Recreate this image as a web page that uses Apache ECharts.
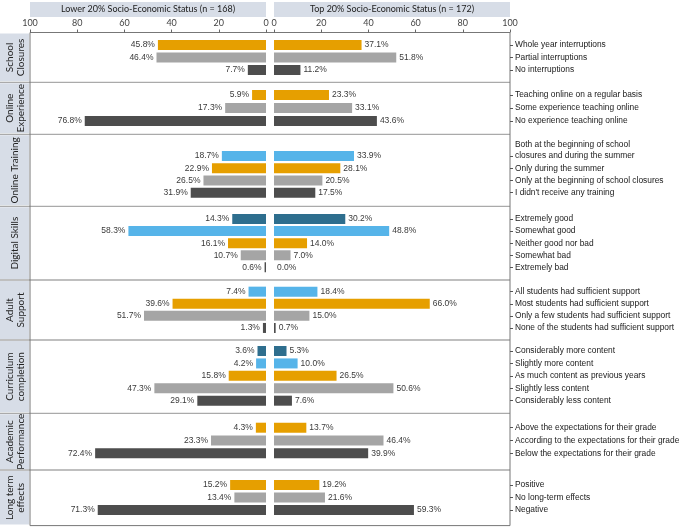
<!DOCTYPE html>
<html>
<head>
<meta charset="utf-8">
<script src="https://cdn.jsdelivr.net/npm/echarts@6/dist/echarts.min.js"></script>
<style>html,body{margin:0;padding:0;background:#fff}#c{width:683px;height:528px}</style>
</head>
<body>
<div id="c"></div>
<script>
// ---------- DATA ----------
const panelTitles = ['Lower 20% Socio-Economic Status (n = 168)', 'Top 20% Socio-Economic Status (n = 172)'];
const xTickValues = [0, 20, 40, 60, 80, 100];
const groupNames = ['School\nClosures', 'Online\nExperience', 'Online Training', 'Digital Skills', 'Adult\nSupport', 'Curriculum\ncompletion', 'Academic\nPerformance', 'Long term\neffects'];

const catSchool = ['Whole year interruptions', 'Partial interruptions', 'No interruptions'];
const catExperience = ['Teaching online on a regular basis', 'Some experience teaching online', 'No experience teaching online'];
const catTraining = ['Both at the beginning of school\nclosures and during the summer', 'Only during the summer', 'Only at the beginning of school closures', "I didn't receive any training"];
const catDigital = ['Extremely good', 'Somewhat good', 'Neither good nor bad', 'Somewhat bad', 'Extremely bad'];
const catAdult = ['All students had sufficient support', 'Most students had sufficient support', 'Only a few students had sufficient support', 'None of the students had sufficient support'];
const catCurriculum = ['Considerably more content', 'Slightly more content', 'As much content as previous years', 'Slightly less content', 'Considerably less content'];
const catAcademic = ['Above the expectations for their grade', 'According to the expectations for their grade', 'Below the expectations for their grade'];
const catLongTerm = ['Positive', 'No long-term effects', 'Negative'];

const lowSchool = [45.8, 46.4, 7.7];
const lowExperience = [5.9, 17.3, 76.8];
const lowTraining = [18.7, 22.9, 26.5, 31.9];
const lowDigital = [14.3, 58.3, 16.1, 10.7, 0.6];
const lowAdult = [7.4, 39.6, 51.7, 1.3];
const lowCurriculum = [3.6, 4.2, 15.8, 47.3, 29.1];
const lowAcademic = [4.3, 23.3, 72.4];
const lowLongTerm = [15.2, 13.4, 71.3];

const topSchool = [37.1, 51.8, 11.2];
const topExperience = [23.3, 33.1, 43.6];
const topTraining = [33.9, 28.1, 20.5, 17.5];
const topDigital = [30.2, 48.8, 14.0, 7.0, 0.0];
const topAdult = [18.4, 66.0, 15.0, 0.7];
const topCurriculum = [5.3, 10.0, 26.5, 50.6, 7.6];
const topAcademic = [13.7, 46.4, 39.9];
const topLongTerm = [19.2, 21.6, 59.3];

// ---------- STYLE / LAYOUT ----------
const palette = {teal: '#2e6e8e', sky: '#56b4e9', orange: '#e69f00', gray: '#a5a5a5', dark: '#4d4d4d'};
const colorKeys = [
  ['orange', 'gray', 'dark'],
  ['orange', 'gray', 'dark'],
  ['sky', 'orange', 'gray', 'dark'],
  ['teal', 'sky', 'orange', 'gray', 'dark'],
  ['sky', 'orange', 'gray', 'dark'],
  ['teal', 'sky', 'orange', 'gray', 'dark'],
  ['orange', 'gray', 'dark'],
  ['orange', 'gray', 'dark']
];
const frameBounds = [32.5, 82.3, 134.3, 206.3, 280, 340, 413.3, 470, 525.6];
const gridTop = [38.75, 88.5, 149.9, 213, 285.6, 344.8, 421.3, 478.75];
const gridH = [37.5, 39, 48.9, 60.4, 48.4, 62.1, 38.4, 37.5];
const leftX = 30, rightX = 274, panelW = 236;

const cats = [catSchool, catExperience, catTraining, catDigital, catAdult, catCurriculum, catAcademic, catLongTerm];
const lows = [lowSchool, lowExperience, lowTraining, lowDigital, lowAdult, lowCurriculum, lowAcademic, lowLongTerm];
const tops = [topSchool, topExperience, topTraining, topDigital, topAdult, topCurriculum, topAcademic, topLongTerm];

const labelFont = 'Liberation Sans, Arial, sans-serif';
const titleFont = 'Lato, Open Sans, sans-serif';

const grid = [], xAxis = [], yAxis = [], series = [];
for (let g = 0; g < cats.length; g++) {
  for (let side = 0; side < 2; side++) {
    const idx = grid.length;
    grid.push({left: side === 0 ? leftX : rightX, width: panelW, top: gridTop[g], height: gridH[g], show: false});
    xAxis.push({
      type: 'value', gridIndex: idx, min: 0, max: 100, interval: 20, inverse: side === 0,
      position: 'top', show: g === 0, offset: gridTop[0] - frameBounds[0],
      axisLine: {show: false, onZero: false},
      axisTick: {show: true, length: 3, lineStyle: {color: '#666'}},
      axisLabel: {show: true, fontSize: 9, color: '#444', fontFamily: titleFont, margin: 5},
      splitLine: {show: false}
    });
    yAxis.push({
      type: 'category', gridIndex: idx, inverse: true, data: cats[g],
      position: side === 0 ? 'left' : 'right',
      show: side === 1,
      axisLine: {show: false, onZero: false},
      axisTick: {show: true, alignWithLabel: true, interval: 0, length: 3, lineStyle: {color: '#555'}},
      axisLabel: {
        interval: 0, hideOverlap: false,
        fontSize: 8.4, color: '#1a1a1a', fontFamily: labelFont, margin: 5, lineHeight: 11,
        formatter: v => v.indexOf('\n') >= 0 ? v + '\n ' : v
      }
    });
    const vals = side === 0 ? lows[g] : tops[g];
    series.push({
      type: 'bar', xAxisIndex: idx, yAxisIndex: idx, barWidth: 10,
      data: vals.map((v, i) => ({value: v, itemStyle: {color: palette[colorKeys[g][i]]}})),
      label: {
        show: true, position: side === 0 ? 'left' : 'right', distance: 3,
        fontSize: 8.5, color: '#3a3a3a', fontFamily: labelFont,
        formatter: p => p.value.toFixed(1) + '%'
      },
      silent: true, animation: false
    });
  }
}

// decorations: headers, strips, frame
const graphic = [];
const headerFill = '#d7dde7';
[leftX, rightX].forEach((x, i) => {
  graphic.push({type: 'rect', shape: {x: x, y: 2, width: panelW, height: 15}, style: {fill: headerFill}});
  graphic.push({type: 'text', x: x + panelW / 2, y: 9.5, style: {text: panelTitles[i], align: 'center', verticalAlign: 'middle', fontSize: 9, fontFamily: titleFont, fill: '#222'}});
});
for (let g = 0; g < groupNames.length; g++) {
  const y0 = frameBounds[g], y1 = frameBounds[g + 1];
  graphic.push({type: 'rect', shape: {x: 0, y: y0 + 1, width: 29, height: y1 - y0 - 2}, style: {fill: headerFill}});
  graphic.push({type: 'text', x: 15, y: (y0 + y1) / 2, rotation: Math.PI / 2,
    style: {text: groupNames[g], align: 'center', verticalAlign: 'middle', fontSize: 10, lineHeight: 11, fontFamily: titleFont, fill: '#222'}});
}
for (let g = 1; g < frameBounds.length - 1; g++) {
  graphic.push({type: 'line', shape: {x1: 0, y1: frameBounds[g], x2: 510, y2: frameBounds[g]}, style: {stroke: '#aaaaaa', lineWidth: 1.3}});
}
graphic.push({type: 'rect', shape: {x: leftX, y: frameBounds[0], width: 510 - leftX, height: frameBounds[8] - frameBounds[0]}, style: {fill: 'none', stroke: '#777', lineWidth: 1}});

const chart = echarts.init(document.getElementById('c'), null, {renderer: 'canvas'});
chart.setOption({animation: false, grid, xAxis, yAxis, series, graphic});
</script>
</body>
</html>
